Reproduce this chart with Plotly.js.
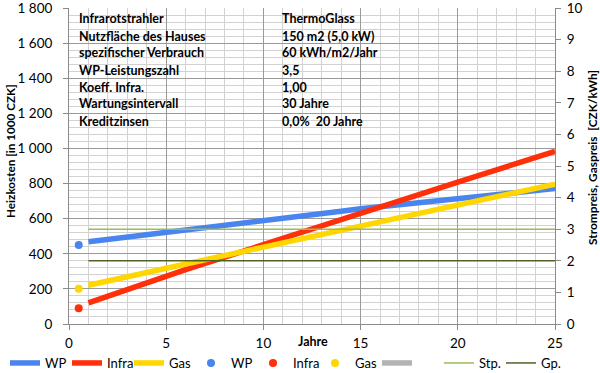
<!DOCTYPE html>
<html>
<head>
<meta charset="utf-8">
<script src="https://cdn.plot.ly/plotly-3.0.1.min.js"></script>
<style>html,body{margin:0;padding:0;background:#fff}#chart{width:600px;height:373px}</style>
</head>
<body>
<div id="chart"></div>
<script>
const years = [1,2,3,4,5,6,7,8,9,10,11,12,13,14,15,16,17,18,19,20,21,22,23,24,25];
const wpCost    = [468,481,494,507,519,531,544,557,571,585,599,613,627,642,656,667,678,690,701,712,724,736,748,760,772];
const infraCost = [120,159,198,237,275,310,345,380,415,450,486,522,558,594,630,666,701,737,772,808,843,878,914,949,984];
const gasCost   = [221,246,271,295,320,344,367,391,414,438,462,486,510,533,557,581,605,629,653,677,701,725,749,773,797];
const pointX    = [0.5];
const wpPoint   = [450];
const infraPoint= [90];
const gasPoint  = [201];
const stromPreis= [3,3,3,3,3,3,3,3,3,3,3,3,3,3,3,3,3,3,3,3,3,3,3,3,3];
const gasPreis  = [2,2,2,2,2,2,2,2,2,2,2,2,2,2,2,2,2,2,2,2,2,2,2,2,2];
const xTickVals = [0,5,10,15,20,25];
const yTickVals = [0,200,400,600,800,1000,1200,1400,1600,1800];
const yTickText = ["0","200","400","600","800","1 000","1 200","1 400","1 600","1 800"];
const infoLabels = ["Infrarotstrahler","Nutzfläche des Hauses","spezifischer Verbrauch","WP-Leistungszahl","Koeff. Infra.","Wartungsintervall","Kreditzinsen"];
const infoValues = ["ThermoGlass","150 m2 (5,0 kW)","60 kWh/m2/Jahr","3,5","1,00","30 Jahre","0,0%\u00a0\u00a020 Jahre"];

const FONT = "Lato, 'Open Sans', sans-serif";
const blue = "#4a84ee", red = "#ff2f0a", yellow = "#ffd600", gray = "#b3b3b3", stpC = "#9bbb59", gpC = "#4f6228";

const T = 8, B = 324, L = 69, R = 555;
const PH = B - T, PW = R - L;
const px2x = v => (v - L) / PW;
const px2y = v => (B - v) / PH;

const traces = [
  {x: years, y: wpCost, name: "WP", mode: "lines", line: {color: blue, width: 5.5}},
  {x: years, y: infraCost, name: "Infra", mode: "lines", line: {color: red, width: 5.5}},
  {x: years, y: gasCost, name: "Gas", mode: "lines", line: {color: yellow, width: 5.5}},
  {x: pointX, y: wpPoint, name: "WP", mode: "markers", marker: {color: blue, size: 8}},
  {x: pointX, y: infraPoint, name: "Infra", mode: "markers", marker: {color: red, size: 8}},
  {x: pointX, y: gasPoint, name: "Gas", mode: "markers", marker: {color: yellow, size: 8}},
  {x: [null], y: [null], name: "\u00a0", mode: "lines", line: {color: gray, width: 5.5}},
  {x: years, y: stromPreis, name: "Stp.", mode: "lines", yaxis: "y2", line: {color: stpC, width: 1.5}},
  {x: years, y: gasPreis, name: "Gp.", mode: "lines", yaxis: "y2", line: {color: gpC, width: 1.5}}
];

const annotations = [];
const rowY = [19,36,53,70,87,104,121];
for (let i = 0; i < infoLabels.length; i++) {
  annotations.push({xref: "paper", yref: "paper", x: px2x(77), y: px2y(rowY[i]), xanchor: "left", yanchor: "middle",
    text: "<b>" + infoLabels[i] + "</b>", showarrow: false, font: {family: FONT, size: 12.5, color: "#000"}});
  annotations.push({xref: "paper", yref: "paper", x: px2x(280), y: px2y(rowY[i]), xanchor: "left", yanchor: "middle",
    text: "<b>" + infoValues[i] + "</b>", showarrow: false, font: {family: FONT, size: 12.5, color: "#000"}});
}
annotations.push({xref: "paper", yref: "paper", x: px2x(313), y: px2y(341), xanchor: "center", yanchor: "middle",
  text: "<b>Jahre</b>", showarrow: false, font: {family: FONT, size: 12.5, color: "#000"}});
annotations.push({xref: "paper", yref: "paper", x: px2x(10), y: px2y(151), xanchor: "center", yanchor: "middle",
  textangle: -90, text: "<b>Heizkosten [in 1000 CZK]</b>", showarrow: false, font: {family: FONT, size: 11.7, color: "#000"}});
annotations.push({xref: "paper", yref: "paper", x: px2x(592), y: px2y(158), xanchor: "center", yanchor: "middle",
  textangle: -90, text: "<b>Strompreis, Gaspreis\u00a0\u00a0[CZK/kWh]</b>", showarrow: false, font: {family: FONT, size: 11.9, color: "#000"}});

const layout = {
  width: 600, height: 373,
  margin: {l: L, r: 600 - R, t: T, b: 373 - B, autoexpand: false},
  paper_bgcolor: "#fff", plot_bgcolor: "#fff",
  font: {family: FONT, size: 13, color: "#000"},
  showlegend: true,
  legend: {orientation: "h", x: px2x(5), xanchor: "left", y: px2y(363), yanchor: "middle",
    bgcolor: "rgba(0,0,0,0)", font: {family: FONT, size: 13}, itemwidth: 30, tracegroupgap: 0,
    entrywidth: 17, entrywidthmode: "pixels"},
  xaxis: {range: [0, 25], tickvals: xTickVals, showgrid: true, gridcolor: "#9a9a9a", gridwidth: 1,
    minor: {dtick: 1, showgrid: true, gridcolor: "#d2d2d2", gridwidth: 1},
    showline: true, linecolor: "#8a8a8a", ticks: "outside", ticklen: 5, tickcolor: "#8a8a8a",
    zeroline: false, tickfont: {family: FONT, size: 13.5}, ticklabelstandoff: 2},
  yaxis: {range: [0, 1800], tickvals: yTickVals, ticktext: yTickText, showgrid: true, gridcolor: "#9a9a9a", gridwidth: 1,
    minor: {dtick: 40, tick0: 0, showgrid: true, gridcolor: "#d2d2d2", gridwidth: 1},
    showline: true, linecolor: "#8a8a8a", ticks: "outside", ticklen: 5, tickcolor: "#8a8a8a",
    zeroline: false, tickfont: {family: FONT, size: 13.5}, ticklabelstandoff: 8, ticklabeloverflow: "allow"},
  yaxis2: {range: [0, 10], dtick: 1, overlaying: "y", side: "right", showgrid: false, zeroline: false,
    showline: true, linecolor: "#8a8a8a", ticks: "outside", ticklen: 5, tickcolor: "#8a8a8a",
    tickfont: {family: FONT, size: 13.5}, ticklabelstandoff: 3, ticklabeloverflow: "allow"},
  annotations: annotations
};

Plotly.newPlot("chart", traces, layout, {displayModeBar: false, staticPlot: true});
</script>
</body>
</html>
